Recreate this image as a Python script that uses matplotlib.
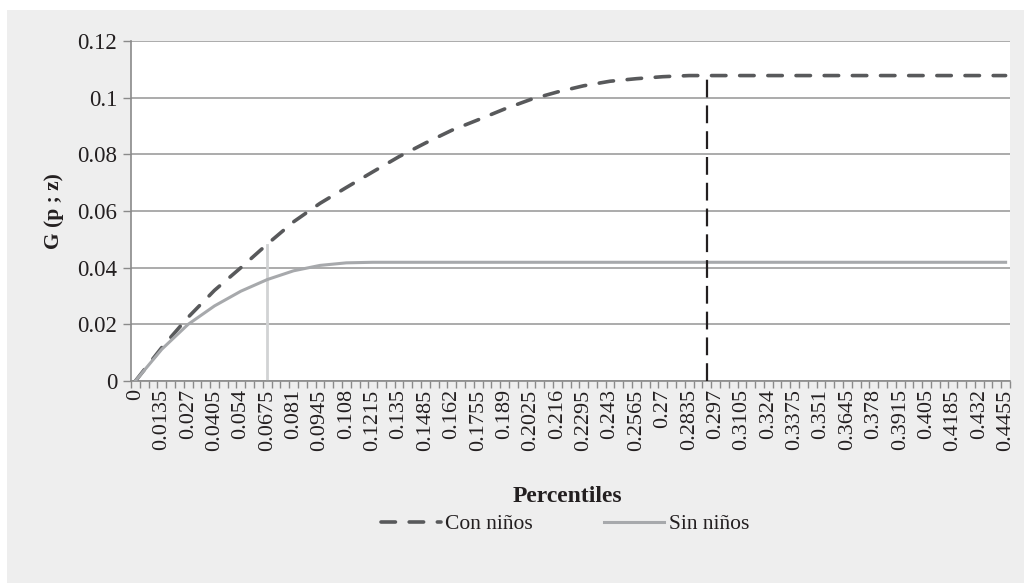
import matplotlib
matplotlib.use("Agg")
import matplotlib.pyplot as plt
import numpy as np
from matplotlib.patches import Rectangle

# Datos (percentiles cada 0.0135)
percentiles = ["0", "0.0135", "0.027", "0.0405", "0.054", "0.0675", "0.081", "0.0945",
               "0.108", "0.1215", "0.135", "0.1485", "0.162", "0.1755", "0.189", "0.2025",
               "0.216", "0.2295", "0.243", "0.2565", "0.27", "0.2835", "0.297", "0.3105",
               "0.324", "0.3375", "0.351", "0.3645", "0.378", "0.3915", "0.405", "0.4185",
               "0.432", "0.4455"]

con_ninos = [0, 0.0118, 0.0225, 0.0320, 0.0400, 0.0483, 0.0562, 0.0627, 0.0683, 0.0738,
             0.0792, 0.0840, 0.0885, 0.0922, 0.0960, 0.0994, 0.1020, 0.1042, 0.1058, 0.1067,
             0.1074, 0.1078, 0.1078, 0.1078, 0.1078, 0.1078, 0.1078, 0.1078, 0.1078, 0.1078,
             0.1078, 0.1078, 0.1078, 0.1078]

sin_ninos = [0, 0.0112, 0.0200, 0.0265, 0.0317, 0.0358, 0.0389, 0.0408, 0.0417, 0.0419,
             0.0419, 0.0419, 0.0419, 0.0419, 0.0419, 0.0419, 0.0419, 0.0419, 0.0419, 0.0419,
             0.0419, 0.0419, 0.0419, 0.0419, 0.0419, 0.0419, 0.0419, 0.0419, 0.0419, 0.0419,
             0.0419, 0.0419, 0.0419, 0.0419]

# líneas verticales (percentil, altura)
corte_con = (0.2925, 0.1078)
corte_sin = (0.0675, 0.048)

x = [float(p) for p in percentiles]

plt.rcParams["font.family"] = ["Liberation Serif", "DejaVu Serif"]

fig = plt.figure(figsize=(10.24, 5.83), dpi=100, facecolor="white")
fig.patches.append(Rectangle((7 / 1024, 0), 1, 1 - 10 / 583, transform=fig.transFigure,
                             facecolor="#eeeeee", edgecolor="none", zorder=-10))
ax = fig.add_axes([131 / 1024, 1 - 381 / 583, 879 / 1024, 340 / 583])
ax.set_facecolor("white")

# curvas
l1, = ax.plot(x, con_ninos, color="#58595b", lw=2.6, dash_capstyle="round",
              label="Con niños", zorder=3)
l1.set_dashes((4.0, 3.8))
l2, = ax.plot(x, sin_ninos, color="#a7a9ac", lw=2.2, label="Sin niños", zorder=3)

# cortes verticales
v1, = ax.plot([corte_con[0], corte_con[0]], [0, corte_con[1]], color="#231f20", lw=1.6, zorder=4)
v1.set_dashes((8.0, 3.6))
ax.plot([corte_sin[0], corte_sin[0]], [0, corte_sin[1]], color="#d1d3d4", lw=2.0, zorder=2)

ax.set_xlim(-0.00225, 0.44775)
ax.set_ylim(0, 0.12)

ax.set_yticks([0, 0.02, 0.04, 0.06, 0.08, 0.1, 0.12])
ax.set_yticklabels(["0", "0.02", "0.04", "0.06", "0.08", "0.1", "0.12"], fontsize=16.5)
ax.grid(axis="y", color="#9d9d9d", lw=1.2)
ax.set_axisbelow(True)

ax.set_xticks(x)
ax.set_xticklabels(percentiles, rotation=90, fontsize=16)
ax.set_xticks(np.arange(-0.00225, 0.4480, 0.0045), minor=True)
ax.tick_params(axis="x", which="major", length=0, pad=6, colors="#231f20")
ax.tick_params(axis="x", which="minor", length=5, width=1, color="#8a8a8a")
ax.tick_params(axis="y", length=6, width=1, color="#8a8a8a", pad=4, labelcolor="#231f20")

for s in ["top", "right"]:
    ax.spines[s].set_visible(False)
for s in ["left", "bottom"]:
    ax.spines[s].set_color("#8a8a8a")
    ax.spines[s].set_linewidth(1.2)

ax.set_ylabel("G (p ; z)", fontsize=15.5, fontweight="bold", color="#231f20")
ax.yaxis.set_label_coords(-0.076, 0.5)
fig.text(567 / 1024, 1 - 497 / 583, "Percentiles", fontsize=17, fontweight="bold",
         ha="center", va="center", color="#231f20")

fig.legend(handles=[l1, l2], loc="center", bbox_to_anchor=(565 / 1024, 1 - 524 / 583),
           ncol=2, frameon=False, fontsize=15.5, handlelength=2.8, columnspacing=3.3,
           handletextpad=0.2, labelcolor="#231f20")

plt.savefig("out.png", dpi=100, facecolor=fig.get_facecolor())
